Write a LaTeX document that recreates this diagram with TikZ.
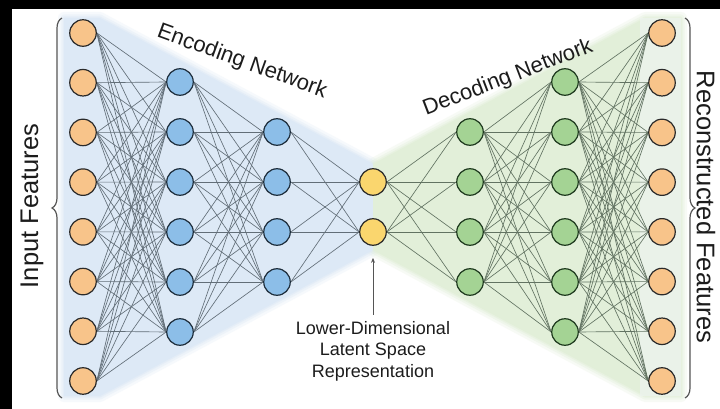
\documentclass[tikz,border=0pt]{standalone}
\usepackage{fontspec}
\setmainfont{Liberation Sans}
\usetikzlibrary{decorations.pathreplacing,arrows.meta,backgrounds}

\definecolor{inorange}{HTML}{F8C48A}
\definecolor{encblue}{HTML}{8CBEE8}
\definecolor{latyellow}{HTML}{FAD66E}
\definecolor{decgreen}{HTML}{A4D394}
\definecolor{ringdark}{HTML}{2A2A2A}
\definecolor{ringblue}{HTML}{1E2E3C}
\definecolor{ringgreen}{HTML}{1F3A1F}
\definecolor{encshade}{HTML}{DDE9F6}
\definecolor{decshade}{HTML}{E2EFD9}
\definecolor{colshade}{HTML}{EEF4F0}
\definecolor{enclink}{RGB}{98,110,120}
\definecolor{declink}{RGB}{98,115,98}
\definecolor{inktext}{HTML}{1C1C1C}
\definecolor{bracegray}{HTML}{555555}

\begin{document}
\begin{tikzpicture}[x=1pt,y=-1pt,
  neuron/.style={circle, minimum size=26.5pt, inner sep=0pt, line width=1.2pt},
  inneuron/.style={neuron, fill=inorange, draw=ringdark},
  encneuron/.style={neuron, fill=encblue, draw=ringblue},
  latneuron/.style={neuron, fill=latyellow, draw=ringdark},
  decneuron/.style={neuron, fill=decgreen, draw=ringgreen},
  enclinkstyle/.style={draw=enclink, line width=0.65pt},
  declinkstyle/.style={draw=declink, line width=0.65pt},
  bigcaption/.style={text=inktext, font=\fontsize{22}{26}\selectfont, inner sep=0pt},
  sidecaption/.style={text=inktext, font=\fontsize{25.5}{30}\selectfont, inner sep=0pt},
  notecaption/.style={text=inktext, font=\fontsize{18}{21.5}\selectfont, align=center, inner sep=2pt},
  featbrace/.style={draw=bracegray, line width=1.2pt,
    decorate, decoration={brace, amplitude=10pt}},
  softedge/.style={line join=round}
]
\useasboundingbox (0,0) rectangle (720,409);

% ---- neurons ----
\foreach \i in {1,...,8}
  \node[inneuron] (in\i) at (83, {207 + (\i-4.5)*49.71}) {};
\foreach \i in {1,...,6}
  \node[encneuron] (ea\i) at (180, {207 + (\i-3.5)*50}) {};
\foreach \i in {1,...,4}
  \node[encneuron] (eb\i) at (277, {207 + (\i-2.5)*50}) {};
\foreach \i in {1,2}
  \node[latneuron] (lat\i) at (373, {207 + (\i-1.5)*50}) {};
\foreach \i in {1,...,4}
  \node[decneuron] (da\i) at (470, {207 + (\i-2.5)*50}) {};
\foreach \i in {1,...,6}
  \node[decneuron] (db\i) at (565, {207 + (\i-3.5)*50}) {};
\foreach \i in {1,...,8}
  \node[inneuron] (out\i) at (662, {207 + (\i-4.5)*49.71}) {};

\begin{scope}[on background layer]
  % frame
  \fill[black] (0,0) rectangle (720,409);
  \fill[white] (12,9) rectangle (720,409);

  % encoder and decoder bands with soft borders
  \foreach \w/\o in {12/0.25,7/0.35,3/0.5}{
    \draw[softedge, draw=encshade, line width=\w pt, draw opacity=\o]
      (64,18) -- (100,18) -- (373,164) -- (373,250) -- (100,396) -- (64,396) -- cycle;
    \draw[softedge, draw=decshade, line width=\w pt, draw opacity=\o]
      (681,18) -- (645,18) -- (373,164) -- (373,250) -- (645,396) -- (681,396) -- cycle;
  }
  \fill[encshade] (64,18) -- (100,18) -- (373,164) -- (373,250) -- (100,396) -- (64,396) -- cycle;
  \fill[decshade] (681,18) -- (645,18) -- (373,164) -- (373,250) -- (645,396) -- (681,396) -- cycle;
  % paler strip behind the output column
  \fill[colshade, fill opacity=0.7] (640,18) rectangle (681,396);

  % fully connected links
  \foreach \i in {1,...,8}
    \foreach \j in {1,...,6}
      \draw[enclinkstyle] (in\i.east) -- (ea\j.west);
  \foreach \i in {1,...,6}
    \foreach \j in {1,...,4}
      \draw[enclinkstyle] (ea\i.east) -- (eb\j.west);
  \foreach \i in {1,...,4}
    \foreach \j in {1,2}
      \draw[enclinkstyle] (eb\i.east) -- (lat\j.west);
  \foreach \i in {1,2}
    \foreach \j in {1,...,4}
      \draw[declinkstyle] (lat\i.east) -- (da\j.west);
  \foreach \i in {1,...,4}
    \foreach \j in {1,...,6}
      \draw[declinkstyle] (da\i.east) -- (db\j.west);
  \foreach \i in {1,...,6}
    \foreach \j in {1,...,8}
      \draw[declinkstyle] (db\i.east) -- (out\j.west);
\end{scope}

% ---- braces ----
\coordinate (inbraceA) at (62,398);
\coordinate (inbraceB) at (62,18);
\coordinate (outbraceA) at (685,18);
\coordinate (outbraceB) at (685,398);
\draw[featbrace] (inbraceA) -- (inbraceB);
\draw[featbrace] (outbraceA) -- (outbraceB);

% ---- captions ----
\node[sidecaption, rotate=90] (inlabel) at (32,206) {Input Features};
\node[sidecaption, rotate=-90] (outlabel) at (706,207) {Reconstructed Features};
\node[bigcaption, rotate=-20] (enclabel) at (242,62) {Encoding Network};
\node[bigcaption, rotate=21] (declabel) at (508,78) {Decoding Network};
\node[notecaption] (latlabel) at (373,351)
  {Lower-Dimensional\\Latent Space\\Representation};

\draw[draw=bracegray, line width=0.8pt, -{Stealth[length=5pt,width=4pt]},
  shorten <=4pt, shorten >=12pt] (latlabel.north) -- (lat2);
\end{tikzpicture}
\end{document}
